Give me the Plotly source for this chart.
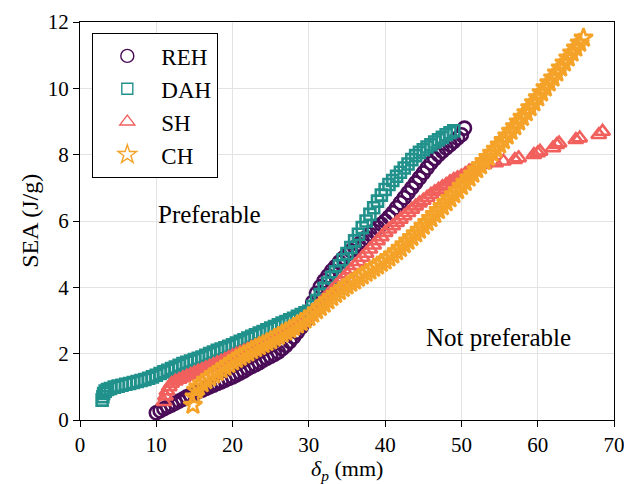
import plotly.graph_objects as go

# REH (circles)
reh_x = [10, 10.5, 11, 11.5, 12, 12.5, 13, 13.5, 14, 14.5,
         15, 15.5, 16, 16.5, 17, 17.5, 18, 18.5, 19, 19.5,
         20, 20.5, 21, 21.5, 22, 22.5, 23, 23.5, 24, 24.5,
         25, 25.5, 26, 26.5, 27, 27.5, 28, 28.5, 29, 29.5,
         30, 30.5, 31, 31.5, 32, 32.5, 33, 33.5, 34, 34.5,
         35, 35.5, 36, 36.5, 37, 37.5, 38, 38.5, 39, 39.5,
         40, 40.5, 41, 41.5, 42, 42.5, 43, 43.5, 44, 44.5,
         45, 45.5, 46, 46.5, 47, 47.5, 48, 48.5, 49, 49.5,
         50, 50.4]
reh_y = [0.22, 0.28, 0.34, 0.4, 0.45, 0.51, 0.57, 0.63, 0.7, 0.75,
         0.8, 0.85, 0.9, 0.95, 1.0, 1.05, 1.1, 1.15, 1.2, 1.25,
         1.3, 1.36, 1.42, 1.48, 1.55, 1.61, 1.67, 1.73, 1.8, 1.86,
         1.92, 1.98, 2.05, 2.15, 2.25, 2.37, 2.5, 2.65, 2.8, 2.97,
         3.15, 3.55, 3.82, 4.02, 4.2, 4.35, 4.5, 4.63, 4.76, 4.88,
         5.0, 5.1, 5.2, 5.3, 5.4, 5.5, 5.6, 5.7, 5.8, 5.9,
         6.0, 6.12, 6.25, 6.4, 6.55, 6.7, 6.85, 7.0, 7.15, 7.3,
         7.45, 7.6, 7.75, 7.88, 8.0, 8.1, 8.2, 8.3, 8.4, 8.5,
         8.6, 8.8]

# DAH (squares)
dah_x = [2.9, 3.0, 3.1, 3.3, 3.6,
         4, 4.5, 5, 5.5, 6, 6.5, 7, 7.5, 8, 8.5,
         9, 9.5, 10, 10.5, 11, 11.5, 12, 12.5, 13, 13.5,
         14, 14.5, 15, 15.5, 16, 16.5, 17, 17.5, 18, 18.5,
         19, 19.5, 20, 20.5, 21, 21.5, 22, 22.5, 23, 23.5,
         24, 24.5, 25, 25.5, 26, 26.5, 27, 27.5, 28, 28.5,
         29, 29.5, 30, 30.5, 31, 31.5, 32, 32.5, 33, 33.5,
         34, 34.5, 35, 35.5, 36, 36.5, 37, 37.5, 38, 38.5,
         39, 39.5, 40, 40.5, 41, 41.5, 42, 42.5, 43, 43.5,
         44, 44.5, 45, 45.5, 46, 46.5, 47, 47.5, 48, 48.5,
         49]
dah_y = [0.6, 0.7, 0.8, 0.87, 0.92,
         0.95, 0.99, 1.02, 1.05, 1.08, 1.1, 1.13, 1.16, 1.19, 1.22,
         1.26, 1.3, 1.35, 1.4, 1.45, 1.5, 1.55, 1.6, 1.65, 1.7,
         1.74, 1.78, 1.82, 1.86, 1.9, 1.95, 2.0, 2.05, 2.1, 2.14,
         2.18, 2.22, 2.27, 2.32, 2.37, 2.42, 2.47, 2.52, 2.57, 2.62,
         2.67, 2.72, 2.77, 2.82, 2.87, 2.92, 2.97, 3.02, 3.07, 3.13,
         3.18, 3.23, 3.28, 3.42, 3.6, 3.78, 3.96, 4.13, 4.3, 4.47,
         4.65, 4.83, 5.02, 5.2, 5.4, 5.6, 5.8, 6.0, 6.2, 6.4,
         6.6, 6.78, 6.95, 7.1, 7.22, 7.35, 7.47, 7.6, 7.72, 7.85,
         7.97, 8.07, 8.15, 8.23, 8.3, 8.38, 8.45, 8.52, 8.6, 8.66,
         8.72]

# SH (triangles)
sh_x = [11.0, 11.2, 11.4, 11.7,
        12, 12.5, 13, 13.5, 14, 14.5, 15, 15.5, 16, 16.5,
        17, 17.5, 18, 18.5, 19, 19.5, 20, 20.5, 21, 21.5,
        22, 22.5, 23, 23.5, 24, 24.5, 25, 25.5, 26, 26.5,
        27, 27.5, 28, 28.5, 29, 29.5, 30, 30.5, 31, 31.5,
        32, 32.5, 33, 33.5, 34, 34.5, 35, 35.5, 36, 36.5,
        37, 37.5, 38, 38.5, 39, 39.5, 40, 40.5, 41, 41.5,
        42, 42.5, 43, 43.5, 44, 44.5, 45, 45.5, 46, 46.5,
        47, 47.5, 48, 48.5, 49, 49.5, 50, 50.5, 51, 51.5,
        52,
        53, 54.5, 55.5, 57, 57.5, 59.5, 60, 60.3, 62, 62.5, 62.8, 65, 65.5, 68, 68.5]
sh_y = [0.55, 0.72, 0.87, 1.0,
        1.1, 1.17, 1.22, 1.27, 1.32, 1.37, 1.42, 1.47, 1.52, 1.57,
        1.62, 1.67, 1.72, 1.77, 1.82, 1.88, 1.93, 1.98, 2.03, 2.08,
        2.13, 2.18, 2.23, 2.28, 2.33, 2.38, 2.43, 2.48, 2.53, 2.59,
        2.65, 2.71, 2.78, 2.86, 2.95, 3.05, 3.15, 3.27, 3.4, 3.52,
        3.65, 3.77, 3.9, 4.02, 4.15, 4.27, 4.4, 4.52, 4.65, 4.77,
        4.9, 5.02, 5.15, 5.27, 5.4, 5.52, 5.65, 5.75, 5.85, 5.95,
        6.05, 6.15, 6.25, 6.35, 6.45, 6.54, 6.62, 6.71, 6.8, 6.88,
        6.95, 7.03, 7.1, 7.18, 7.25, 7.3, 7.35, 7.42, 7.5, 7.56,
        7.62,
        7.7, 7.75, 7.8, 7.85, 7.9, 8.0, 8.05, 8.1, 8.2, 8.3, 8.35, 8.45, 8.5, 8.6, 8.7]

# CH (stars)
ch_x = [14.8, 15.0, 15.2,
        15.5, 16, 16.5, 17, 17.5, 18, 18.5, 19, 19.5, 20,
        20.5, 21, 21.5, 22, 22.5, 23, 23.5, 24, 24.5, 25,
        25.5, 26, 26.5, 27, 27.5, 28, 28.5, 29, 29.5, 30,
        30.5, 31, 31.5, 32, 32.5, 33, 33.5, 34, 34.5, 35,
        35.5, 36, 36.5, 37, 37.5, 38, 38.5, 39, 39.5, 40,
        40.5, 41, 41.5, 42, 42.5, 43, 43.5, 44, 44.5, 45,
        45.5, 46, 46.5, 47, 47.5, 48, 48.5, 49, 49.5, 50,
        50.5, 51, 51.5, 52, 52.5, 53, 53.5, 54, 54.5, 55,
        55.5, 56, 56.5, 57, 57.5, 58, 58.5, 59, 59.5, 60,
        60.5, 61, 61.5, 62, 62.5, 63, 63.5, 64, 64.5, 65,
        65.5, 66]
ch_y = [0.45, 0.7, 0.9,
        1.0, 1.1, 1.2, 1.28, 1.36, 1.44, 1.52, 1.6, 1.68, 1.76,
        1.83, 1.9, 1.97, 2.03, 2.1, 2.16, 2.22, 2.28, 2.34, 2.4,
        2.47, 2.53, 2.6, 2.66, 2.73, 2.8, 2.87, 2.95, 3.02, 3.1,
        3.2, 3.3, 3.4, 3.5, 3.6, 3.7, 3.79, 3.88, 3.97, 4.05,
        4.13, 4.2, 4.28, 4.35, 4.43, 4.5, 4.58, 4.65, 4.73, 4.8,
        4.89, 4.98, 5.08, 5.18, 5.29, 5.4, 5.51, 5.62, 5.73, 5.85,
        5.96, 6.08, 6.2, 6.32, 6.44, 6.56, 6.68, 6.8, 6.92, 7.05,
        7.17, 7.3, 7.42, 7.55, 7.67, 7.8, 7.92, 8.05, 8.17, 8.3,
        8.43, 8.57, 8.71, 8.85, 8.99, 9.13, 9.27, 9.42, 9.57, 9.72,
        9.87, 10.02, 10.17, 10.32, 10.47, 10.62, 10.77, 10.92, 11.07, 11.22,
        11.37, 11.52]

series = [
    ("REH", reh_x, reh_y, "circle-open", "#4a0c57", 13),
    ("DAH", dah_x, dah_y, "square-open", "#21918c", 11),
    ("SH", sh_x, sh_y, "triangle-up-open", "#f1605d", 13),
    ("CH", ch_x, ch_y, "star-open", "#f5a229", 14),
]

FONT = "Liberation Serif"
fig = go.Figure()
for name, xs, ys, sym, col, sz in series:
    # data marks (heavier ring so dense runs read as a solid band)
    fig.add_trace(go.Scatter(
        x=xs, y=ys, mode="markers", name=name, showlegend=False,
        marker=dict(symbol=sym, size=sz, color=col, line=dict(color=col, width=2.6)),
    ))
for name, xs, ys, sym, col, sz in series:
    # legend entry with the thin marker outline
    fig.add_trace(go.Scatter(
        x=[None], y=[None], mode="markers", name=name,
        marker=dict(symbol=sym, size=sz, color=col, line=dict(color=col, width=1.4)),
    ))

fig.add_annotation(x=17, y=6.2, text="Preferable", showarrow=False,
                   font=dict(family=FONT, size=25, color="black"))
fig.add_annotation(x=54.8, y=2.5, text="Not preferable", showarrow=False,
                   font=dict(family=FONT, size=25, color="black"))
# axis titles
fig.add_annotation(xref="paper", yref="paper", x=0.5, y=-0.126, yanchor="middle",
                   text="<i>δ</i><sub><i>p</i></sub> (mm)", showarrow=False, borderpad=0,
                   font=dict(family=FONT, size=22, color="black"))
fig.add_annotation(xref="paper", yref="paper", x=-0.094, y=0.5, xanchor="center",
                   text="SEA (J/g)", textangle=-90, showarrow=False,
                   font=dict(family=FONT, size=24, color="black"))

axis_common = dict(showline=True, linecolor="black", linewidth=1.3, mirror=True,
                   ticks="outside", ticklen=6, tickcolor="black", tickwidth=1.2,
                   showgrid=True, gridcolor="#e3e3e3", gridwidth=1, zeroline=False,
                   automargin=False, ticklabeloverflow="allow",
                   tickfont=dict(family=FONT, size=21, color="black"))

fig.update_layout(
    width=624, height=484,
    margin=dict(l=80, r=10, t=22, b=64),
    paper_bgcolor="white", plot_bgcolor="white",
    font=dict(family=FONT, color="black"),
    xaxis=dict(range=[0, 70], dtick=10, **axis_common),
    yaxis=dict(range=[0, 12], dtick=2, **axis_common),
    legend=dict(x=0.0225, y=0.972, xanchor="left", yanchor="top",
                bordercolor="black", borderwidth=1.3, bgcolor="white",
                font=dict(family=FONT, size=23), traceorder="normal",
                itemwidth=58),
)
fig.write_html("out.html")
